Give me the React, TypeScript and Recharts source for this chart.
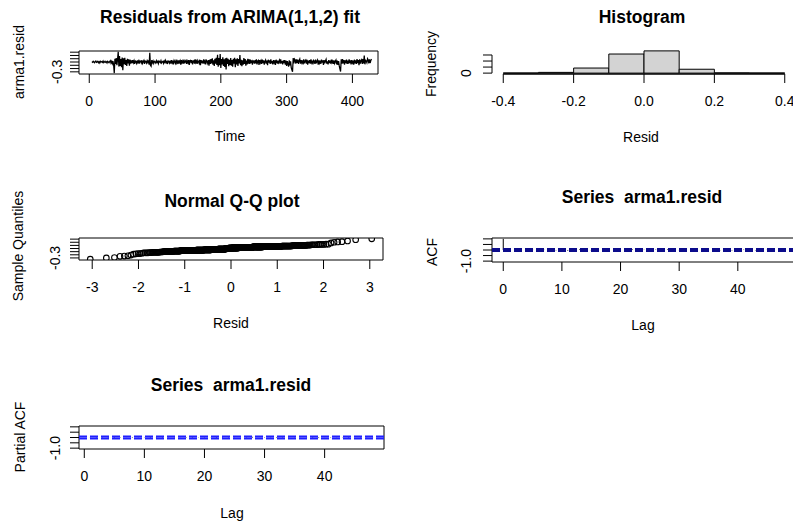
import React from "react";
import {
  ComposedChart,
  ScatterChart,
  Line,
  Scatter,
  XAxis,
  YAxis,
  ReferenceArea,
  ReferenceLine,
} from "recharts";

// tsdiag-style panel set for the ARIMA(1,1,2) residuals: series, histogram,
// normal Q-Q, ACF and PACF, laid out like R's par(mfrow = c(3, 2)).

const FONT = '"Liberation Sans", Arial, Helvetica, sans-serif';
const INK = "#000";

// residuals, starting at t = 4
const residStart = 4;
const resid = [
  0.01, -0.01, 0.02, 0.0, -0.02, 0.01, 0.03, -0.01, 0.0, 0.02,
  -0.02, 0.01, -0.03, 0.02, 0.0, 0.01, -0.01, 0.03, -0.02, 0.0,
  0.02, -0.01, 0.01, -0.03, 0.02, 0.0, -0.02, 0.01, 0.04, -0.03,
  0.02, -0.05, 0.03, -0.08, -0.34, 0.1, -0.06, 0.12, -0.1, 0.08,
  0.31, -0.14, 0.18, -0.12, 0.09, -0.16, 0.14, -0.25, 0.11, -0.07,
  0.13, -0.09, 0.06, -0.12, 0.1, -0.04, 0.08, -0.11, 0.07, -0.05,
  0.05, -0.03, 0.06, -0.02, 0.04, -0.06, 0.03, 0.01, -0.04, 0.05,
  -0.02, 0.03, -0.05, 0.04, 0.02, -0.03, 0.06, -0.04, 0.01, 0.05,
  -0.06, 0.03, 0.02, -0.03, 0.04, -0.01, 0.05, -0.08, 0.28, -0.1,
  -0.13, 0.06, -0.02, 0.03, -0.04, 0.02, 0.0, -0.03, 0.04, -0.01,
  0.02, -0.05, 0.03, 0.01, -0.02, 0.04, -0.03, 0.0, 0.02, -0.04,
  0.03, -0.01, 0.05, -0.02, 0.01, -0.06, 0.03, 0.02, -0.03, 0.04,
  -0.05, 0.06, -0.02, 0.04, -0.07, 0.05, 0.01, -0.04, 0.07, -0.03,
  0.02, -0.06, 0.05, -0.01, 0.04, -0.08, 0.06, -0.02, 0.03, -0.05,
  0.07, -0.04, 0.02, 0.05, -0.06, 0.03, -0.02, 0.06, -0.09, 0.04,
  0.05, -0.03, 0.06, -0.07, 0.02, 0.04, -0.05, 0.08, -0.02, 0.03,
  -0.06, 0.05, 0.01, -0.04, 0.07, -0.1, 0.06, -0.03, 0.04, -0.05,
  0.08, -0.02, 0.03, -0.07, 0.05, 0.02, -0.04, 0.06, -0.11, 0.07,
  -0.06, 0.09, -0.04, 0.11, -0.08, 0.05, -0.12, 0.1, -0.05, 0.13,
  -0.09, 0.22, -0.14, 0.12, -0.1, 0.24, -0.18, 0.09, -0.07, 0.14,
  -0.12, 0.08, -0.15, 0.11, -0.23, 0.13, -0.06, 0.1, -0.13, 0.07,
  -0.09, 0.12, -0.11, 0.06, -0.14, 0.1, -0.05, 0.13, -0.16, 0.08,
  -0.07, 0.11, -0.12, 0.09, -0.04, 0.21, -0.1, 0.07, -0.13, 0.05,
  -0.08, 0.12, -0.06, 0.09, -0.11, 0.04, -0.07, 0.1, -0.05, 0.08,
  -0.06, 0.07, -0.03, 0.05, -0.08, 0.04, 0.02, -0.05, 0.06, -0.04,
  0.08, -0.07, 0.03, 0.05, -0.09, 0.06, -0.02, 0.04, -0.06, 0.07,
  -0.03, 0.05, -0.08, 0.02, 0.06, -0.05, 0.04, -0.1, 0.07, -0.02,
  0.05, -0.06, 0.08, -0.04, 0.03, -0.07, 0.06, -0.02, 0.05, -0.09,
  0.07, -0.03, 0.04, -0.06, 0.02, 0.06, -0.05, 0.08, -0.04, 0.03,
  -0.07, 0.05, -0.03, 0.06, -0.08, 0.04, -0.12, 0.03, -0.06, -0.14,
  0.05, -0.1, 0.02, -0.17, -0.24, -0.3, 0.12, -0.04, 0.09, 0.06,
  -0.05, 0.08, -0.03, 0.07, -0.06, 0.04, 0.09, -0.05, 0.06, -0.02,
  0.05, -0.07, 0.08, -0.04, 0.03, 0.06, -0.05, 0.07, -0.08, 0.04,
  -0.03, 0.06, -0.05, 0.08, -0.02, 0.04, -0.07, 0.05, 0.03, -0.06,
  0.07, -0.04, 0.02, 0.06, -0.08, 0.05, -0.03, 0.04, -0.06, 0.07,
  -0.02, 0.05, -0.09, 0.06, -0.04, 0.03, 0.08, -0.05, 0.02, -0.07,
  0.06, -0.03, 0.04, -0.05, 0.07, -0.02, 0.03, -0.06, 0.05, -0.04,
  0.02, 0.06, -0.07, 0.04, -0.09, 0.03, -0.12, -0.21, -0.29, 0.08,
  -0.05, 0.09, -0.04, 0.06, -0.08, 0.05, -0.03, 0.07, -0.06, 0.04,
  -0.05, 0.08, -0.03, 0.05, -0.07, 0.06, -0.02, 0.04, -0.08, 0.07,
  -0.04, 0.05, -0.06, 0.09, -0.03, 0.06, -0.1, 0.08, -0.05, 0.04,
  0.07, -0.06, 0.09, -0.04, 0.2, -0.07, 0.05, 0.03, -0.02, 0.1,
  0.06, -0.04, 0.08, -0.03, 0.05, 0.09,
];

// histogram of the residuals (breaks every 0.1)
const histBreaks = [-0.4, -0.3, -0.2, -0.1, 0, 0.1, 0.2, 0.3, 0.4];
const histCounts = [1, 6, 42, 158, 184, 32, 2, 1];

// sample autocorrelations, lag 0..48
const acfValues = [
  1.0, 0.02, -0.04, 0.03, -0.05, 0.06, -0.02, 0.01, 0.04, -0.03,
  0.02, -0.06, 0.03, 0.05, -0.01, -0.04, 0.02, 0.03, -0.05, 0.01,
  0.04, -0.02, 0.06, -0.03, 0.02, -0.01, 0.03, -0.04, 0.05, 0.01,
  -0.02, 0.03, -0.05, 0.02, 0.04, -0.03, 0.01, -0.02, 0.05, -0.04,
  0.02, 0.03, -0.01, -0.03, 0.04, 0.02, -0.05, 0.01, 0.03,
];

// partial autocorrelations, lag 1..48
const pacfValues = [
  0.02, -0.04, 0.03, -0.05, 0.05, -0.03, 0.01, 0.04, -0.02, 0.02,
  -0.06, 0.04, 0.04, -0.02, -0.03, 0.01, 0.03, -0.04, 0.02, 0.03,
  -0.01, 0.05, -0.04, 0.03, -0.02, 0.02, -0.03, 0.06, 0.0, -0.03,
  0.02, -0.04, 0.03, 0.03, -0.02, 0.01, -0.03, 0.04, -0.05, 0.01,
  0.03, -0.02, -0.02, 0.05, 0.01, -0.04, 0.02, 0.02,
];

const timeRange: [number, number] = [-15.6, 438.9];
const timeTicks = [0, 100, 200, 300, 400];
const residTicks = [-0.3, -0.2, -0.1, 0, 0.1, 0.2, 0.3];
const histTicks = [-0.4, -0.2, 0, 0.2, 0.4];
const freqTicks = [0, 50, 100, 150];
const qqTicks = [-3, -2, -1, 0, 1, 2, 3];
const lagTicks = [0, 10, 20, 30, 40];
const corTicks = [-1, -0.5, 0, 0.5, 1];

// inverse normal cdf for ppoints() (Acklam's rational approximation)
function qnorm(p: number) {
  const a = [-39.69683028665376, 220.9460984245205, -275.9285104469687, 138.357751867269, -30.66479806614716, 2.506628277459239];
  const b = [-54.47609879822406, 161.5858368580409, -155.6989798598866, 66.80131188771972, -13.28068155288572];
  const c = [-0.007784894002430293, -0.3223964580411365, -2.400758277161838, -2.549732539343734, 4.374664141464968, 2.938163982698783];
  const d = [0.007784695709041462, 0.3224671290700398, 2.445134137142996, 3.754408661907416];
  const tail = (q: number) =>
    (((((c[0] * q + c[1]) * q + c[2]) * q + c[3]) * q + c[4]) * q + c[5]) /
    ((((d[0] * q + d[1]) * q + d[2]) * q + d[3]) * q + 1);
  if (p < 0.02425) return tail(Math.sqrt(-2 * Math.log(p)));
  if (p > 1 - 0.02425) return -tail(Math.sqrt(-2 * Math.log(1 - p)));
  const q = p - 0.5;
  const r = q * q;
  return (
    ((((((a[0] * r + a[1]) * r + a[2]) * r + a[3]) * r + a[4]) * r + a[5]) * q) /
    (((((b[0] * r + b[1]) * r + b[2]) * r + b[3]) * r + b[4]) * r + 1)
  );
}

// default R axis range: data range stretched 4% each side
const stretch = (lo: number, hi: number): [number, number] => {
  const p = (hi - lo) * 0.04;
  return [lo - p, hi + p];
};

const n = resid.length;
const tsData = resid.map((r, i) => ({ t: i + residStart, r }));
const sorted = [...resid].sort((x, y) => x - y);
const qqData = sorted.map((s, i) => ({ q: qnorm((i + 0.5) / n), s }));
const acfData = acfValues.map((v, lag) => ({ lag, v }));
const pacfData = pacfValues.map((v, i) => ({ lag: i + 1, v }));
const histBins = histCounts.map((count, i) => ({
  lo: histBreaks[i],
  hi: histBreaks[i + 1],
  mid: (histBreaks[i] + histBreaks[i + 1]) / 2,
  count,
}));
const ci = 1.96 / Math.sqrt(n);

const residY = stretch(Math.min(...resid), Math.max(...resid));
const qqX = stretch(qqData[0].q, qqData[n - 1].q);
const histX = stretch(histBreaks[0], histBreaks[histBreaks.length - 1]);
const histY = stretch(0, Math.max(...histCounts));
const acfX = stretch(0, acfValues.length - 1);
const pacfX = stretch(1, pacfValues.length);
const corY = stretch(-1, 1);

// page layout (plot box of each panel, px)
type Box = { l: number; t: number; r: number; b: number };
const YW = 44;
const XH = 44;
const M = 3;
const tsBox: Box = { l: 79, t: 51, r: 378, b: 74 };
const histBox: Box = { l: 492, t: 50, r: 796, b: 74 };
const qqBox: Box = { l: 79, t: 238, r: 383, b: 260 };
const acfBox: Box = { l: 492, t: 238, r: 796, b: 262 };
const pacfBox: Box = { l: 79, t: 426, r: 384, b: 449 };

const frame = (box: Box) => ({
  style: { position: "absolute" as const, left: box.l - YW, top: box.t - M },
  width: YW + (box.r - box.l) + M,
  height: M + (box.b - box.t) + XH,
  margin: { top: M, right: M, bottom: 0, left: 0 },
});

const tickFont = { fontSize: 14, fill: INK, fontFamily: FONT };

// R draws only the first y label when the rest would collide
const firstLabel = (gap: number, fmt: (v: number) => string) => (props: any) => {
  const { y, payload, index } = props;
  if (index !== 0) return <g />;
  const x = YW - gap;
  return (
    <text
      x={x}
      y={y}
      transform={`rotate(-90 ${x} ${y})`}
      textAnchor="middle"
      dominantBaseline="central"
      {...tickFont}
    >
      {fmt(payload.value)}
    </text>
  );
};

const xAxisProps = {
  type: "number" as const,
  interval: 0 as const,
  allowDataOverflow: true,
  axisLine: false,
  tickSize: 9,
  tickMargin: 13,
  height: XH,
  stroke: INK,
  tick: tickFont,
};

const yAxisProps = {
  type: "number" as const,
  interval: 0 as const,
  allowDataOverflow: true,
  axisLine: false,
  tickSize: 9,
  width: YW,
  stroke: INK,
};

const ring = (p: any) => (
  <circle cx={p.cx} cy={p.cy} r={2.8} fill="none" stroke={INK} strokeWidth={1.1} />
);

const box = (x: [number, number], y: [number, number]) => (
  <ReferenceArea
    x1={x[0]}
    x2={x[1]}
    y1={y[0]}
    y2={y[1]}
    fill="none"
    stroke={INK}
    strokeWidth={1}
    ifOverflow="visible"
  />
);

const spikes = (rows: { lag: number; v: number }[]) =>
  rows.map((p) => (
    <ReferenceLine
      key={p.lag}
      segment={[
        { x: p.lag, y: 0 },
        { x: p.lag, y: p.v },
      ]}
      stroke={INK}
      strokeWidth={1}
      ifOverflow="visible"
    />
  ));

const ciLines = (color: string, w: number) =>
  [ci, -ci].map((h) => (
    <ReferenceLine
      key={h}
      y={h}
      stroke={color}
      strokeWidth={w}
      strokeDasharray="8 3"
      ifOverflow="visible"
    />
  ));

const titles = [
  { text: "Residuals from ARIMA(1,1,2) fit", x: 230, y: 17 },
  { text: "Histogram", x: 642, y: 17 },
  { text: "Normal Q-Q plot", x: 232, y: 201 },
  { text: "Series  arma1.resid", x: 642, y: 197 },
  { text: "Series  arma1.resid", x: 231, y: 385 },
];

const axisTitles = [
  { text: "Time", x: 230, y: 136, rot: false },
  { text: "arma1.resid", x: 19, y: 62, rot: true },
  { text: "Resid", x: 641, y: 137, rot: false },
  { text: "Frequency", x: 431, y: 64, rot: true },
  { text: "Resid", x: 231, y: 323, rot: false },
  { text: "Sample Quantiles", x: 18, y: 246, rot: true },
  { text: "Lag", x: 643, y: 325, rot: false },
  { text: "ACF", x: 432, y: 252, rot: true },
  { text: "Lag", x: 232, y: 513, rot: false },
  { text: "Partial ACF", x: 20, y: 437, rot: true },
];

export default function App() {
  const ts = frame(tsBox);
  const hi = frame(histBox);
  const qq = frame(qqBox);
  const ac = frame(acfBox);
  const pa = frame(pacfBox);

  return (
    <div
      style={{
        position: "absolute",
        left: 0,
        top: 0,
        width: 793,
        height: 525,
        overflow: "hidden",
        background: "#fff",
        fontFamily: FONT,
      }}
    >
      {/* residual series */}
      <div style={ts.style}>
        <ComposedChart width={ts.width} height={ts.height} margin={ts.margin} data={tsData}>
          <XAxis {...xAxisProps} dataKey="t" domain={timeRange} ticks={timeTicks} />
          <YAxis {...yAxisProps} domain={residY} ticks={residTicks} tick={firstLabel(22, (v) => v.toFixed(1))} />
          <Line dataKey="r" stroke={INK} strokeWidth={1.25} dot={false} isAnimationActive={false} />
          {box(timeRange, residY)}
        </ComposedChart>
      </div>

      {/* histogram */}
      <div style={hi.style}>
        <ComposedChart width={hi.width} height={hi.height} margin={hi.margin} data={histBins}>
          <XAxis {...xAxisProps} dataKey="mid" domain={histX} ticks={histTicks} tickFormatter={(v: number) => v.toFixed(1)} />
          <YAxis {...yAxisProps} domain={histY} ticks={freqTicks} tick={firstLabel(26, (v) => String(v))} />
          {histBins.map((bin) => (
            <ReferenceArea
              key={bin.mid}
              x1={bin.lo}
              x2={bin.hi}
              y1={0}
              y2={bin.count}
              fill="#d3d3d3"
              fillOpacity={1}
              stroke={INK}
              strokeWidth={1}
              ifOverflow="visible"
            />
          ))}
          <ReferenceLine
            segment={[
              { x: histTicks[0], y: histY[0] },
              { x: histTicks[histTicks.length - 1], y: histY[0] },
            ]}
            stroke={INK}
            strokeWidth={1.5}
            ifOverflow="visible"
          />
          <ReferenceLine
            segment={[
              { x: histX[0], y: freqTicks[0] },
              { x: histX[0], y: freqTicks[freqTicks.length - 1] },
            ]}
            stroke={INK}
            ifOverflow="visible"
          />
        </ComposedChart>
      </div>

      {/* normal Q-Q */}
      <div style={qq.style}>
        <ScatterChart width={qq.width} height={qq.height} margin={qq.margin}>
          <XAxis {...xAxisProps} dataKey="q" domain={qqX} ticks={qqTicks} />
          <YAxis {...yAxisProps} dataKey="s" domain={residY} ticks={residTicks} tick={firstLabel(24, (v) => v.toFixed(1))} />
          <Scatter data={qqData} shape={ring} isAnimationActive={false} />
          {box(qqX, residY)}
        </ScatterChart>
      </div>

      {/* ACF */}
      <div style={ac.style}>
        <ComposedChart width={ac.width} height={ac.height} margin={ac.margin} data={acfData}>
          <XAxis {...xAxisProps} dataKey="lag" domain={acfX} ticks={lagTicks} />
          <YAxis {...yAxisProps} domain={corY} ticks={corTicks} tick={firstLabel(26, (v) => v.toFixed(1))} />
          {spikes(acfData)}
          {ciLines("#0c0c8c", 2)}
          {box(acfX, corY)}
        </ComposedChart>
      </div>

      {/* PACF */}
      <div style={pa.style}>
        <ComposedChart width={pa.width} height={pa.height} margin={pa.margin} data={pacfData}>
          <XAxis {...xAxisProps} dataKey="lag" domain={pacfX} ticks={lagTicks} />
          <YAxis {...yAxisProps} domain={corY} ticks={corTicks} tick={firstLabel(24, (v) => v.toFixed(1))} />
          {spikes(pacfData)}
          {ciLines("#1f1fff", 1.8)}
          {box(pacfX, corY)}
        </ComposedChart>
      </div>

      <svg
        width={793}
        height={525}
        style={{ position: "absolute", left: 0, top: 0, pointerEvents: "none" }}
      >
        {titles.map((t, i) => (
          <text
            key={i}
            x={t.x}
            y={t.y}
            textAnchor="middle"
            dominantBaseline="central"
            fontSize={17.5}
            fontWeight="bold"
            fill={INK}
            style={{ whiteSpace: "pre" }}
          >
            {t.text}
          </text>
        ))}
        {axisTitles.map((t, i) => (
          <text
            key={i}
            x={t.x}
            y={t.y}
            transform={t.rot ? `rotate(-90 ${t.x} ${t.y})` : undefined}
            textAnchor="middle"
            dominantBaseline="central"
            fontSize={14}
            fill={INK}
          >
            {t.text}
          </text>
        ))}
      </svg>
    </div>
  );
}
